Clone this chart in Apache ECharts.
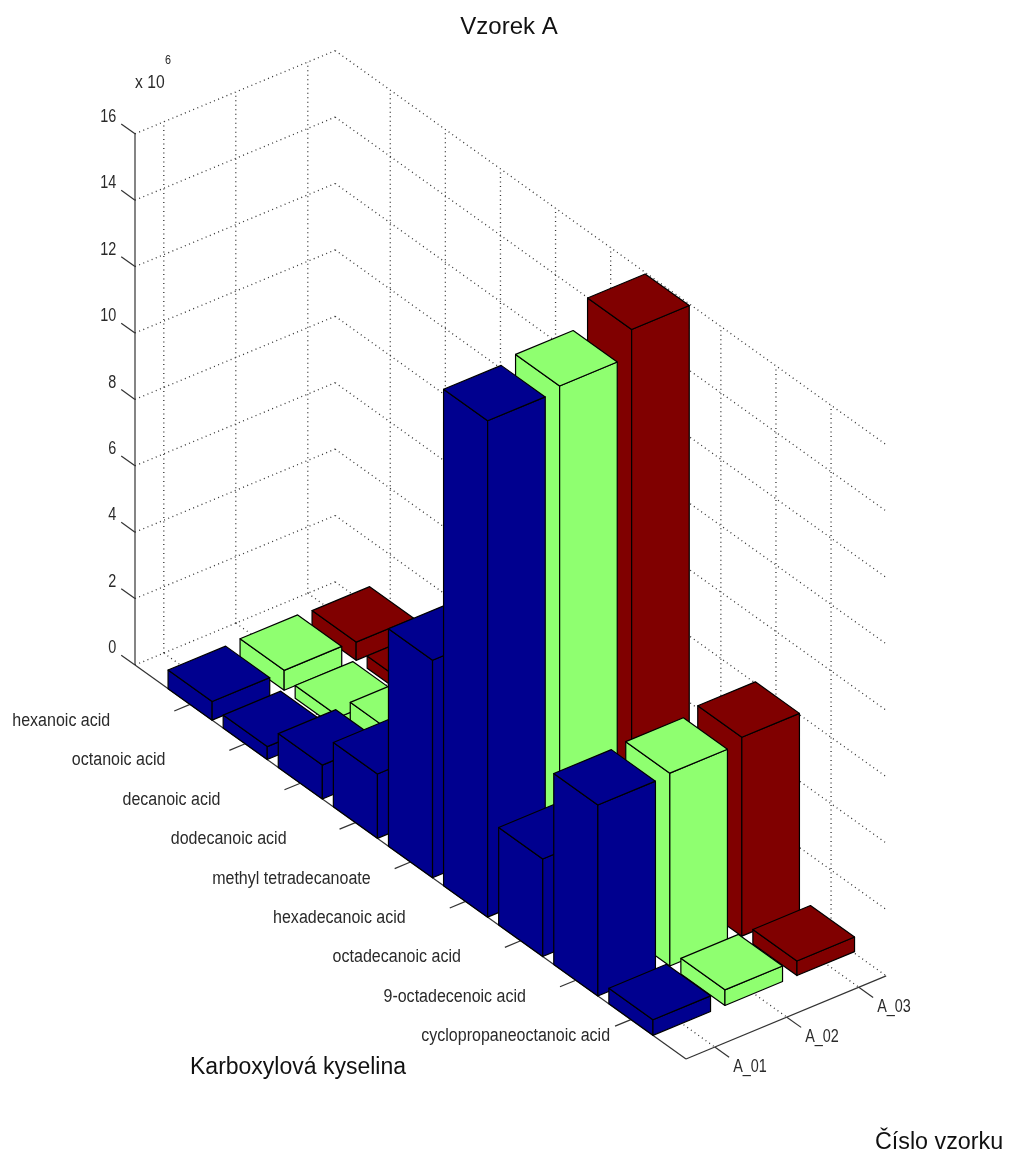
<!DOCTYPE html>
<html>
<head>
<meta charset="utf-8">
<title>Vzorek A</title>
<script src="https://cdn.jsdelivr.net/npm/echarts@6/dist/echarts.min.js"></script>
<style>
html,body{margin:0;padding:0;background:#fff}
#chart{width:1009px;height:1156px}
</style>
</head>
<body>
<div id="chart"></div>
<script>
// data, values in units of 10^6
const categories = ['hexanoic acid','octanoic acid','decanoic acid','dodecanoic acid','methyl tetradecanoate','hexadecanoic acid','octadecanoic acid','9-octadecenoic acid','cyclopropaneoctanoic acid'];
const samples = ['A_01','A_02','A_03'];
const valuesA01 = [0.56,0.39,1.02,1.94,6.55,14.95,2.94,5.75,0.47];
const valuesA02 = [0.6,0.38,1.06,1.8,6,15.1,3,5.81,0.47];
const valuesA03 = [0.55,0.37,1,1.9,6,15.9,3,5.99,0.44];
const zTicks = [0,2,4,6,8,10,12,14,16];

const seriesValues = [valuesA01,valuesA02,valuesA03];
const colors = ['#00008f','#8fff70','#800000'];

// oblique projection, px per unit of each 3D axis
const catRun = 55.1, catDrop = 39.4, sampleRun = 72, sampleRise = 29.9, zScale = 33.2;
const sMin = 0.6, sMax = 3.38, cMax = 10;
const barHalf = 0.4;

// 3D point to the hidden cartesian: x axis in category units, y axis in z units
const project = (c,s,z)=>{
  const ds = s - sMin;
  return [c + ds*sampleRun/catRun, z - c*catDrop/zScale + ds*sampleRise/zScale];
};

// gaps between tick end and label, MATLAB placed them unevenly
const catLabelGap = [64,64,64,53,24,44,44,34,5];

const segments = {dotted:[],solid:[]};
zTicks.forEach(z=>{
  segments.dotted.push([0,sMin,z,0,sMax,z]);
  segments.dotted.push([0,sMax,z,cMax,sMax,z]);
  segments.solid.push([0,sMin,z,-0.25,sMin,z]);
});
samples.forEach((n,i)=>{
  const s = i+1;
  segments.dotted.push([0,s,0,0,s,16]);
  segments.dotted.push([0,s,0,cMax,s,0]);
  segments.solid.push([cMax,s,0,cMax+0.26,s,0]);
});
categories.forEach((n,i)=>{
  const c = i+1;
  segments.dotted.push([c,sMax,0,c,sMax,16]);
  segments.dotted.push([c,sMin,0,c,sMax,0]);
  segments.solid.push([c,sMin,0,c,sMin-0.22,0]);
});
segments.solid.push([0,sMin,0,0,sMin,16]);
segments.solid.push([0,sMin,0,cMax,sMin,0]);
segments.solid.push([cMax,sMin,0,cMax,sMax,0]);

// back to front so nearer bars cover the others
const barData = [];
for (let si=samples.length-1;si>=0;si--) {
  categories.forEach((n,ci)=>barData.push([ci+1,si+1,seriesValues[si][ci],si]));
}

const renderSegment = (style)=>(params,api)=>{
  const a = api.coord(project(api.value(0),api.value(1),api.value(2)));
  const b = api.coord(project(api.value(3),api.value(4),api.value(5)));
  return {type:'line',shape:{x1:a[0],y1:a[1],x2:b[0],y2:b[1]},style:style,silent:true};
};

const renderBar = (params,api)=>{
  const c = api.value(0), s = api.value(1), z = api.value(2);
  const pt = (cc,ss,zz)=>api.coord(project(cc,ss,zz));
  const c0 = c-barHalf, c1 = c+barHalf, s0 = s-barHalf, s1 = s+barHalf;
  const style = {fill:colors[api.value(3)],stroke:'#000',lineWidth:1.2,lineJoin:'round'};
  const face = (pts)=>({type:'polygon',shape:{points:pts},style:style});
  return {type:'group',children:[
    face([pt(c0,s0,0),pt(c1,s0,0),pt(c1,s0,z),pt(c0,s0,z)]),
    face([pt(c1,s0,0),pt(c1,s1,0),pt(c1,s1,z),pt(c1,s0,z)]),
    face([pt(c0,s0,z),pt(c1,s0,z),pt(c1,s1,z),pt(c0,s1,z)])
  ]};
};

const tickFont = {fill:'#2a2a2a',fontFamily:'Liberation Sans',fontSize:18};

const renderCatLabel = (params,api)=>{
  const i = params.dataIndex;
  const p = api.coord(project(i+1,sMin-0.22,0));
  return {type:'text',x:p[0]-catLabelGap[i],y:p[1]+10,scaleX:0.89,
    style:Object.assign({text:categories[i],align:'right',verticalAlign:'middle'},tickFont)};
};
const renderSampleLabel = (params,api)=>{
  const i = params.dataIndex;
  const p = api.coord(project(cMax+0.26,i+1,0));
  return {type:'text',x:p[0]+4,y:p[1]+10,scaleX:0.8,
    style:Object.assign({text:samples[i],align:'left',verticalAlign:'middle'},tickFont)};
};
const renderZLabel = (params,api)=>{
  const z = zTicks[params.dataIndex];
  const p = api.coord(project(-0.25,sMin,z));
  return {type:'text',x:p[0]-5,y:p[1]-7,scaleX:0.8,
    style:Object.assign({text:String(z),align:'right',verticalAlign:'middle'},tickFont)};
};

var myChart = echarts.init(document.getElementById('chart'),null,{renderer:'canvas'});
var option = {
  animation:false,
  backgroundColor:'#fff',
  title:{
    text:'Vzorek A',left:509,top:15,padding:0,textAlign:'center',
    textStyle:{fontFamily:'Liberation Sans',fontSize:24,fontWeight:'normal',color:'#111'}
  },
  grid:{left:135-2*catRun,width:16*catRun,top:665-16*zScale,height:28*zScale},
  xAxis:{type:'value',min:-2,max:14,show:false},
  yAxis:{type:'value',min:-12,max:16,interval:2,show:false},
  graphic:[
    {type:'text',x:135,y:74,scaleX:0.87,style:{text:'x 10',font:'18px "Liberation Sans"',fill:'#2a2a2a'}},
    {type:'text',x:165,y:55,scaleX:0.9,style:{text:'6',font:'12px "Liberation Sans"',fill:'#2a2a2a'}},
    {type:'text',left:190,top:1056,style:{text:'Karboxylová kyselina',font:'23px "Liberation Sans"',fill:'#111'}},
    {type:'text',left:875,top:1131,style:{text:'Číslo vzorku',font:'23.3px "Liberation Sans"',fill:'#111'}}
  ],
  series:[
    {type:'custom',coordinateSystem:'cartesian2d',z:1,clip:false,data:segments.dotted,
      renderItem:renderSegment({stroke:'#333',lineWidth:1.3,lineDash:[1,3.5]})},
    {type:'custom',coordinateSystem:'cartesian2d',z:2,clip:false,data:segments.solid,
      renderItem:renderSegment({stroke:'#333',lineWidth:1.2})},
    {type:'custom',coordinateSystem:'cartesian2d',z:3,clip:false,data:barData,renderItem:renderBar},
    {type:'custom',coordinateSystem:'cartesian2d',z:4,clip:false,data:categories.map((n,i)=>[i+1,sMin]),renderItem:renderCatLabel},
    {type:'custom',coordinateSystem:'cartesian2d',z:4,clip:false,data:samples.map((n,i)=>[cMax,i+1]),renderItem:renderSampleLabel},
    {type:'custom',coordinateSystem:'cartesian2d',z:4,clip:false,data:zTicks.map(z=>[0,z]),renderItem:renderZLabel}
  ]
};
option && myChart.setOption(option);
</script>
</body>
</html>
